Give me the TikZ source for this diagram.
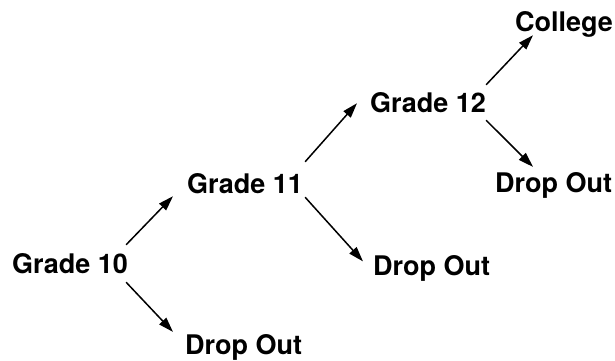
\documentclass[tikz,border=0pt]{standalone}
\usepackage{fontspec}
\setmainfont{TeX Gyre Heros}
\usetikzlibrary{arrows.meta}
\begin{document}
\begin{tikzpicture}[x=1pt,y=-1pt,
  lbl/.style={anchor=base west,inner sep=0pt,text height=19.4pt,text depth=0pt,
    font=\fontsize{27}{30}\selectfont\bfseries},
  arr/.style={line width=1.5pt,-{Triangle[length=15pt,width=9.5pt]}}]
\useasboundingbox (0,0) rectangle (615,360);
\node[lbl] (g10) at (12,273) {Grade 10};
\node[lbl] (g11) at (187,193) {Grade 11};
\node[lbl] (d1) at (185,354.5) {Drop Out};
\node[lbl] (g12) at (370,112) {Grade 12};
\node[lbl] (d2) at (373,275) {Drop Out};
\node[lbl] (col) at (515,31) {College};
\node[lbl] (d3) at (495,192.5) {Drop Out};
\draw[arr] ([shift={(-2,-8.6)}]g10.north east) -- ([shift={(-14,3)}]g11.south west);
\draw[arr] ([shift={(-2,9)}]g10.south east) -- ([shift={(-12,-3)}]d1.north west);
\draw[arr] ([shift={(2,-11.6)}]g11.north east) -- ([shift={(-13,-9)}]g12.south west);
\draw[arr] ([shift={(2,4)}]g11.south east) -- ([shift={(-10,6)}]d2.north west);
\draw[arr] ([shift={(0,-7.6)}]g12.north east) -- ([shift={(18,4)}]col.south west);
\draw[arr] ([shift={(0,8)}]g12.south east) -- ([shift={(38,-6)}]d3.north west);
\end{tikzpicture}
\end{document}
